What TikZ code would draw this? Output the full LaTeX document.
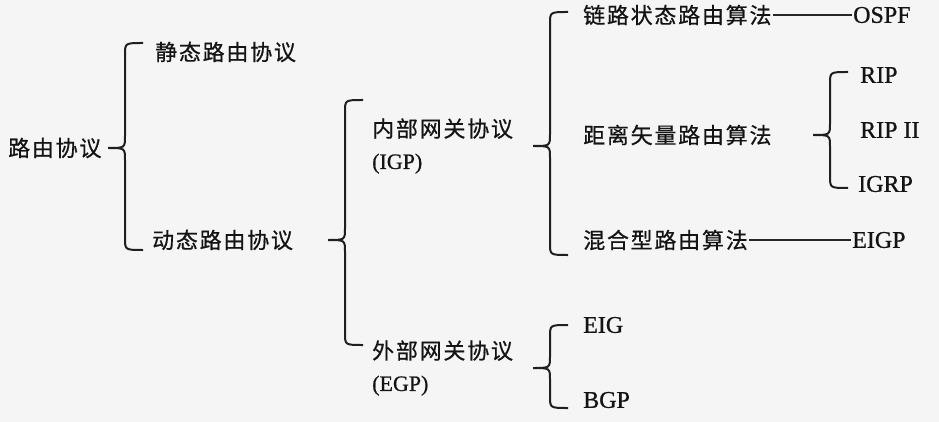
\documentclass[tikz,border=0pt]{standalone}
\usepackage{fontspec}
\setmainfont{Liberation Serif}[FakeBold=0.8]
\newfontfamily\cjk{Noto Sans CJK SC}[LetterSpace=8, FakeBold=0.6]
\newfontfamily\lat{Liberation Serif}[FakeBold=0.8]
\usepackage{tikz}
\usetikzlibrary{calc}

% curly brace: parent node, spine x, top end y, bottom end y
\newcommand{\curlybrace}[4]{%
  \coordinate (sp) at (#2,0);
  \draw[bracket] (#2+18,#3) .. controls (#2,#3) .. (#2,#3+12)
    -- ($(sp |- #1)+(0,-12)$) .. controls (sp |- #1) .. ($(sp |- #1)+(-17,0)$)
    .. controls (sp |- #1) .. ($(sp |- #1)+(0,12)$)
    -- (#2,#4-12) .. controls (#2,#4) .. (#2+18,#4);
}

\begin{document}
\begin{tikzpicture}[x=1pt, y=-1pt,
    zh/.style={anchor=west, inner sep=1pt, text=black!92, font=\cjk\fontsize{22}{32}\selectfont},
    en/.style={anchor=west, inner sep=1pt, text=black!92, font=\lat\fontsize{24}{32}\selectfont},
    bracket/.style={line width=2pt, draw=black!88},
    link/.style={line width=1.1pt, draw=black!85}]
            \fill[white!96!black] (0,0) rectangle (939,422);
            \useasboundingbox (0,0) rectangle (939,422);

            % Nodes
            \node[zh] (root) at (7, 148) {路由协议};
            \node[zh] (static) at (154, 52) {静态路由协议};
            \node[zh] (dynamic) at (151, 240) {动态路由协议};
            \node[zh, align=left] (igp) at (371, 146) {内部网关协议\\{\lat(IGP)}};
            \node[zh, align=left] (egp) at (371, 368) {外部网关协议\\{\lat(EGP)}};
            \node[zh] (lsr) at (582, 15) {链路状态路由算法};
            \node[zh] (dvr) at (582, 135) {距离矢量路由算法};
            \node[zh] (hyb) at (582, 240) {混合型路由算法};
            \node[en] (ospf) at (852, 15) {OSPF};
            \node[en] (rip) at (859, 75) {RIP};
            \node[en] (rip2) at (859, 130) {RIP II};
            \node[en] (igrp) at (857, 184) {IGRP};
            \node[en] (eigp) at (851, 240) {EIGP};
            \node[en] (eig) at (582, 325) {EIG};
            \node[en] (bgp) at (582, 400) {BGP};

            % Braces
            \curlybrace{root}{125}{43}{250}
            \curlybrace{dynamic}{345}{100}{345}
            \curlybrace{igp}{550}{12}{255}
            \curlybrace{dvr}{830}{72}{188}
            \curlybrace{egp}{550}{325}{408}

            % Lines
            \draw[link] (lsr.east) -- (ospf.west);
            \draw[link] (hyb.east) -- (eigp.west);

\end{tikzpicture}
\end{document}
